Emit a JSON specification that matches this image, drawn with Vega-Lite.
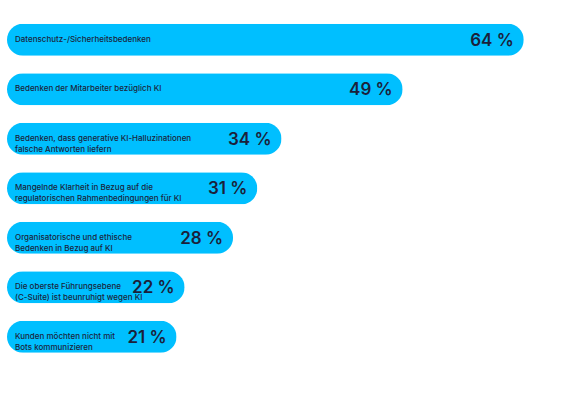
{
  "$schema": "https://vega.github.io/schema/vega-lite/v6.json",
  "autosize": "none",
  "padding": {"left": 7, "top": 15, "right": 0, "bottom": 0},
  "width": 520,
  "height": 346.5,
  "background": "white",
  "config": {"view": {"stroke": null}, "font": "Inter"},
  "data": {
    "values": [
      {"label": "Datenschutz-/Sicherheitsbedenken", "value": 64},
      {"label": "Bedenken der Mitarbeiter bezüglich KI", "value": 49},
      {"label": "Bedenken, dass generative KI-Halluzinationen\nfalsche Antworten liefern", "value": 34},
      {"label": "Mangelnde Klarheit in Bezug auf die\nregulatorischen Rahmenbedingungen für KI", "value": 31},
      {"label": "Organisatorische und ethische\nBedenken in Bezug auf KI", "value": 28},
      {"label": "Die oberste Führungsebene\n(C-Suite) ist beunruhigt wegen KI", "value": 22},
      {"label": "Kunden möchten nicht mit\nBots kommunizieren", "value": 21}
    ]
  },
  "transform": [{"calculate": "datum.value + ' %'", "as": "pct"}],
  "encoding": {
    "y": {
      "field": "label",
      "type": "nominal",
      "sort": null,
      "axis": null,
      "scale": {"paddingInner": 0.35, "paddingOuter": 0.175}
    }
  },
  "layer": [
    {
      "mark": {"type": "bar", "color": "#00BFFF", "cornerRadius": 16},
      "encoding": {
        "x": {"field": "value", "type": "quantitative", "axis": null, "scale": {"domain": [0, 64.4], "nice": false}}
      }
    },
    {
      "mark": {"type": "text", "align": "left", "baseline": "middle", "dx": 8, "fontSize": 8, "fontWeight": 500, "color": "#1b1f3b", "lineBreak": "\n", "lineHeight": 11},
      "encoding": {
        "x": {"datum": 0, "type": "quantitative"},
        "text": {"field": "label"}
      }
    },
    {
      "mark": {"type": "text", "align": "right", "baseline": "middle", "dx": -10, "dy": 1, "fontSize": 17, "fontWeight": 600, "color": "#1b1f3b"},
      "encoding": {
        "x": {"field": "value", "type": "quantitative"},
        "text": {"field": "pct"}
      }
    }
  ]
}
